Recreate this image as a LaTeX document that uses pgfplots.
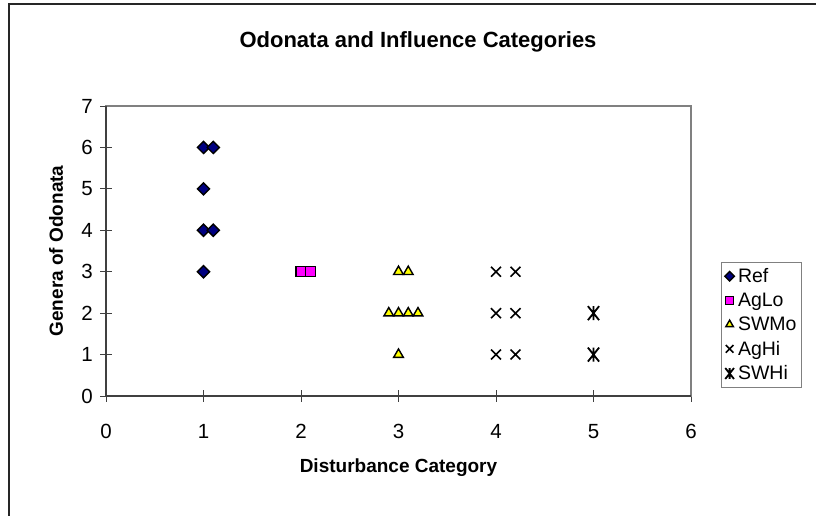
\documentclass[border=0pt]{standalone}
\usepackage{pgfplots}
\pgfplotsset{compat=1.18}
\usepackage{fontspec}
\setmainfont{Liberation Sans}
\definecolor{refc}{HTML}{000080}
\definecolor{aglo}{HTML}{FF00FF}
\definecolor{swmo}{HTML}{FFFF00}
\definecolor{frame}{HTML}{808080}
\definecolor{axdark}{HTML}{404040}
\pgfdeclareplotmark{xstar}{%
  \pgfpathmoveto{\pgfqpoint{-0.8\pgfplotmarksize}{-\pgfplotmarksize}}%
  \pgfpathlineto{\pgfqpoint{0.8\pgfplotmarksize}{\pgfplotmarksize}}%
  \pgfpathmoveto{\pgfqpoint{-0.8\pgfplotmarksize}{\pgfplotmarksize}}%
  \pgfpathlineto{\pgfqpoint{0.8\pgfplotmarksize}{-\pgfplotmarksize}}%
  \pgfpathmoveto{\pgfqpoint{0pt}{-\pgfplotmarksize}}%
  \pgfpathlineto{\pgfqpoint{0pt}{\pgfplotmarksize}}%
  \pgfusepathqstroke}
\begin{document}
\begin{tikzpicture}[x=1pt,y=1pt]
\useasboundingbox (0,0) rectangle (816,516);
\draw[black!85, line width=1.2pt] (9,-2) -- (9,512) -- (818,512);
\node[font=\fontsize{22}{26}\selectfont\bfseries] at (418,474) {Odonata and Influence Categories};
\begin{axis}[
  at={(106pt,120pt)}, anchor=south west,
  scale only axis, width=585pt, height=290pt,
  xmin=0, xmax=6, ymin=0, ymax=7,
  xtick={0,1,2,3,4,5,6}, ytick={0,1,2,3,4,5,6,7},
  xtick pos=bottom, ytick pos=left,
  tick align=center, major tick length=12pt,
  tick style={axdark, line width=0.8pt},
  axis line style={frame, line width=1.5pt},
  /pgf/number format/assume math mode=true,
  tick label style={font=\fontsize{20.5}{24}\selectfont},
  yticklabel style={inner sep=0pt, xshift=-7pt},
  xticklabel style={inner sep=0pt, yshift=-22pt},
  xlabel={\bfseries Disturbance Category},
  ylabel={\bfseries Genera of Odonata},
  label style={font=\fontsize{19}{22}\selectfont},
  xlabel style={at={(axis description cs:0.5,0)}, anchor=center, yshift=-72pt},
  ylabel style={at={(axis description cs:0,0.5)}, anchor=center, rotate=0, yshift=50pt},
  legend style={at={(axis description cs:1.051,0.462)}, anchor=north west,
    draw=frame, line width=0.8pt, font=\fontsize{19.5}{22}\selectfont,
    inner xsep=3pt, inner ysep=4pt, row sep=5pt, legend cell align=left},
  legend image code/.code={\path (0pt,0pt) (11pt,0pt);\draw[#1, scale=0.78] plot coordinates {(6.4pt,0pt)};},
  clip=false,
]
\addplot[only marks, mark=square*, mark size=4.3pt,
  mark options={rotate=45, fill=refc, draw=black, line width=1.4pt}]
  coordinates {(1,6) (1.1,6) (1,5) (1,4) (1.1,4) (1,3)};
\addlegendentry{Ref}
\addplot[only marks, mark=square*, mark size=5pt,
  mark options={fill=aglo, draw=black, line width=1.4pt}]
  coordinates {(2,3) (2.1,3)};
\addlegendentry{AgLo}
\addplot[only marks, mark=triangle*, mark size=5.6pt,
  mark options={fill=swmo, draw=black, line width=1.4pt}]
  coordinates {(3,3) (3.1,3) (2.9,2) (3,2) (3.1,2) (3.2,2) (3,1)};
\addlegendentry{SWMo}
\addplot[only marks, mark=x, mark size=7pt,
  mark options={draw=black, line width=1.6pt}]
  coordinates {(4,3) (4.2,3) (4,2) (4.2,2) (4,1) (4.2,1)};
\addlegendentry{AgHi}
\addplot[only marks, mark=xstar, mark size=7pt,
  mark options={draw=black, line width=1.8pt}]
  coordinates {(5,2) (5,1)};
\addlegendentry{SWHi}
\draw[axdark, line width=1.5pt] (rel axis cs:0,1) -- (rel axis cs:0,0) -- (rel axis cs:1,0);
\end{axis}
\end{tikzpicture}
\end{document}
